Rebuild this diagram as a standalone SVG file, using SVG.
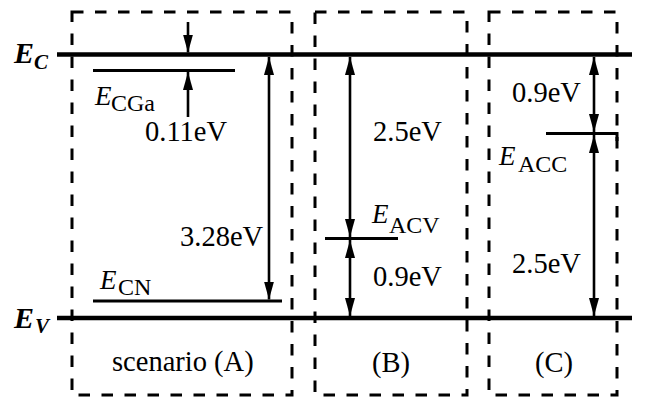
<svg xmlns="http://www.w3.org/2000/svg" width="651" height="399" viewBox="0 0 651 399">
<style>
.box{fill:none;stroke:#000;stroke-width:3;stroke-dasharray:11.5 11.5}
.band{stroke:#000;stroke-width:4.5}
.lvl{stroke:#000;stroke-width:3;fill:none}
.arr{stroke:#000;stroke-width:2.6}
.t{font-family:"Liberation Serif","Times New Roman",serif;font-size:28.5px;fill:#000}
.e{font-family:"Liberation Serif","Times New Roman",serif;font-style:italic;font-size:27px;fill:#000}
.s{font-family:"Liberation Serif","Times New Roman",serif;font-size:24px;fill:#000}
.eb{font-family:"Liberation Serif","Times New Roman",serif;font-style:italic;font-weight:bold;font-size:30px;fill:#000}
.sb{font-family:"Liberation Serif","Times New Roman",serif;font-style:italic;font-weight:bold;font-size:21px;fill:#000}
</style>
<defs>
<marker id="ah" viewBox="0 0 18 10" refX="18" refY="5" markerWidth="18" markerHeight="10" markerUnits="userSpaceOnUse" orient="auto-start-reverse">
<path d="M0,0 L18,5 L0,10 Z" fill="#000"/>
</marker>
</defs>
<g id="boxes">
<rect id="boxA" class="box" x="72" y="12" width="220" height="383"/>
<rect id="boxB" class="box" x="315" y="12" width="152" height="383"/>
<rect id="boxC" class="box" x="489" y="12" width="128" height="383"/>
</g>
<g id="EC">
<line class="band" x1="57" y1="54.5" x2="632" y2="54.5"/>
<text class="eb" x="14" y="63">E</text><text class="sb" x="34" y="69">C</text>
</g>
<g id="EV">
<line class="band" x1="57" y1="318" x2="632" y2="318"/>
<text class="eb" x="14" y="328">E</text><text class="sb" x="35" y="333">V</text>
</g>
<g id="ECGa">
<line class="lvl" x1="93" y1="70.5" x2="235" y2="70.5"/>
<text class="e" x="95" y="105">E</text><text class="s" x="111" y="111">CGa</text>
</g>
<g id="ECN">
<line class="lvl" x1="93" y1="301" x2="282" y2="301"/>
<text class="e" x="100" y="289">E</text><text class="s" x="118" y="295">CN</text>
</g>
<g id="EACV">
<line class="lvl" x1="325" y1="238.5" x2="398" y2="238.5"/>
<text class="e" x="372" y="223">E</text><text class="s" x="389" y="233">ACV</text>
</g>
<g id="EACC">
<polyline class="lvl" points="546,133.5 617,133.5 617,141"/>
<text class="e" x="499" y="165">E</text><text class="s" x="518" y="172">ACC</text>
</g>
<g id="connectors">
<line class="arr" x1="188" y1="22" x2="188" y2="52.5" marker-end="url(#ah)"/>
<line class="arr" x1="188" y1="117" x2="188" y2="72" marker-end="url(#ah)"/>
<line class="arr" x1="269" y1="57" x2="269" y2="299.5" marker-start="url(#ah)" marker-end="url(#ah)"/>
<line class="arr" x1="350" y1="57" x2="350" y2="237" marker-start="url(#ah)" marker-end="url(#ah)"/>
<line class="arr" x1="350" y1="240" x2="350" y2="316" marker-start="url(#ah)" marker-end="url(#ah)"/>
<line class="arr" x1="594" y1="57" x2="594" y2="132" marker-start="url(#ah)" marker-end="url(#ah)"/>
<line class="arr" x1="594" y1="135" x2="594" y2="316" marker-start="url(#ah)" marker-end="url(#ah)"/>
</g>
<g id="labels">
<text class="t" x="145" y="141">0.11eV</text>
<text class="t" x="180" y="246">3.28eV</text>
<text class="t" x="373" y="141">2.5eV</text>
<text class="t" x="373" y="286">0.9eV</text>
<text class="t" x="512" y="102">0.9eV</text>
<text class="t" x="512" y="273">2.5eV</text>
<text class="t" x="112" y="371">scenario (A)</text>
<text class="t" x="372" y="372">(B)</text>
<text class="t" x="535" y="372">(C)</text>
</g>
</svg>
